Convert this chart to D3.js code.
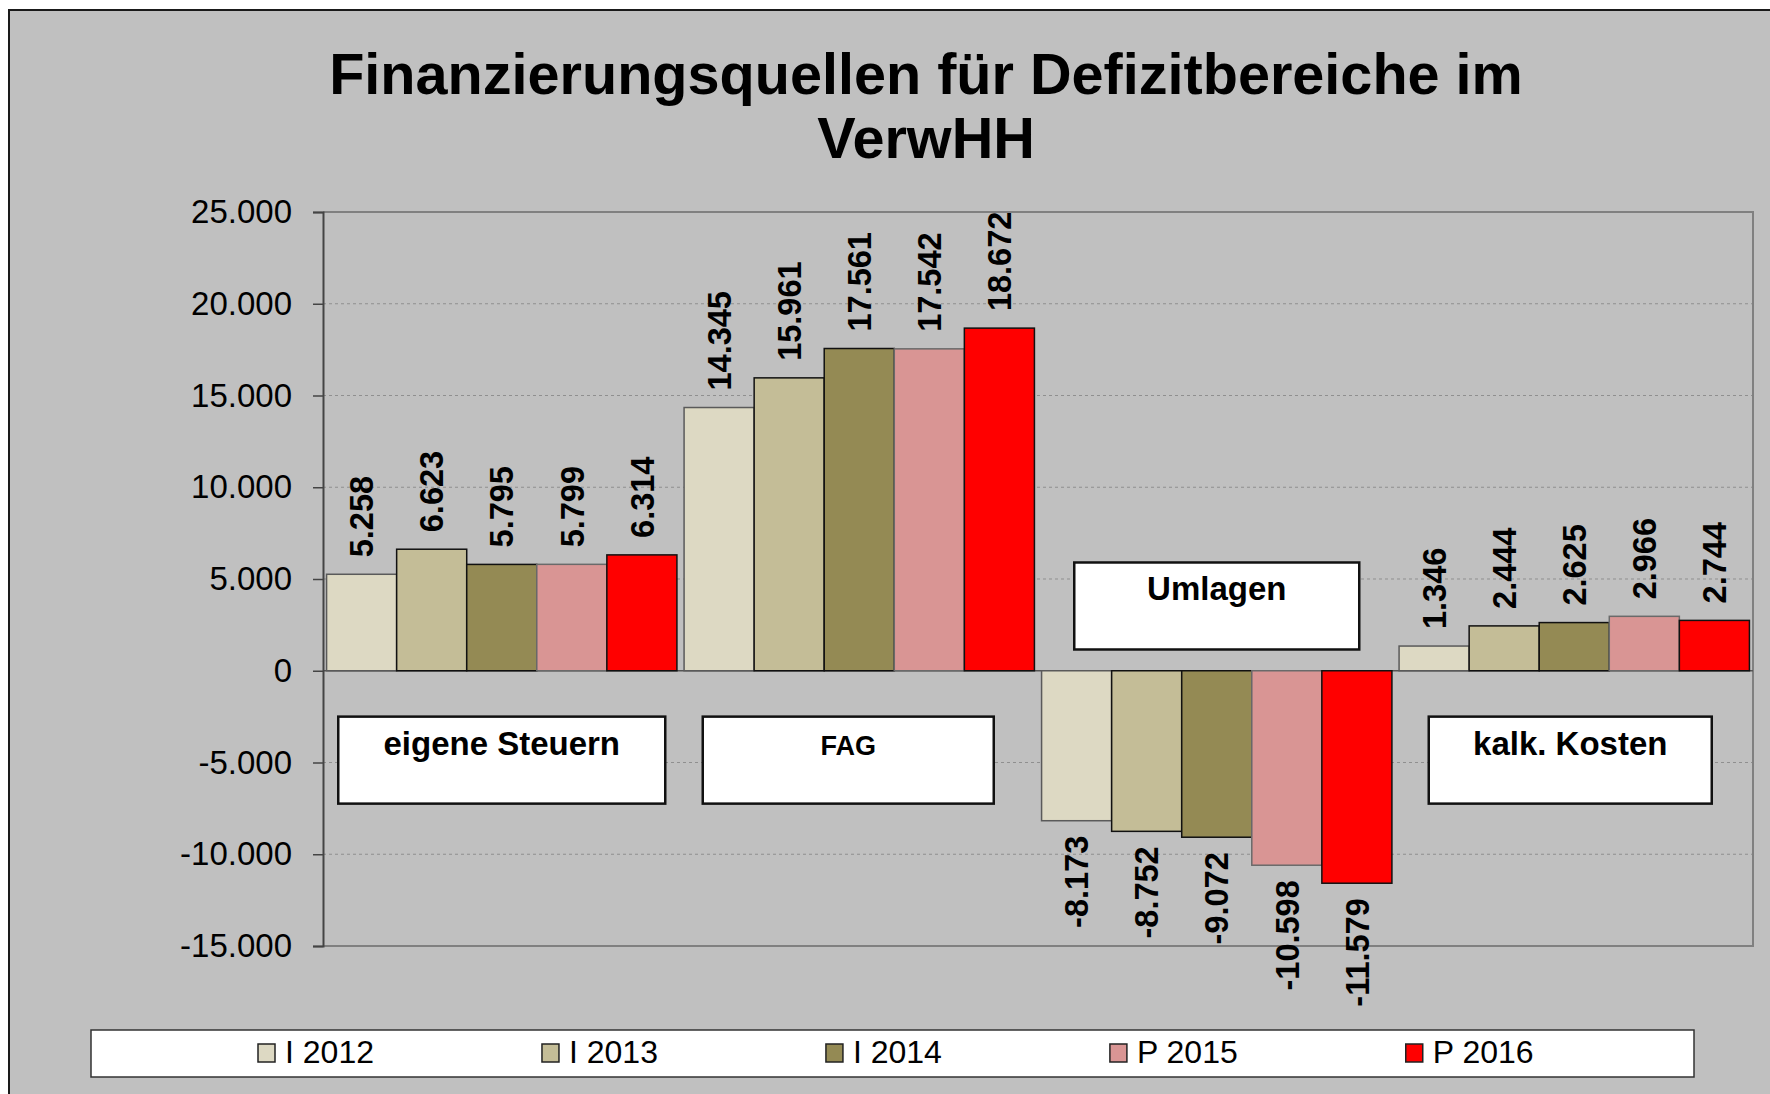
<!DOCTYPE html>
<html>
<head>
<meta charset="utf-8">
<script src="https://cdn.jsdelivr.net/npm/d3@7"></script>
<style>
  html, body { margin: 0; padding: 0; background: #ffffff; }
  svg { display: block; }
  text { font-family: "Liberation Sans", Arial, sans-serif; }
</style>
</head>
<body>
<div id="chart"></div>
<script>
// DATA
const categories = ["eigene Steuern", "FAG", "Umlagen", "kalk. Kosten"];
const seriesNames = ["I 2012", "I 2013", "I 2014", "P 2015", "P 2016"];
const valuesI2012 = [5258, 14345, -8173, 1346];
const valuesI2013 = [6623, 15961, -8752, 2444];
const valuesI2014 = [5795, 17561, -9072, 2625];
const valuesP2015 = [5799, 17542, -10598, 2966];
const valuesP2016 = [6314, 18672, -11579, 2744];
const yTicks = [-15000, -10000, -5000, 0, 5000, 10000, 15000, 20000, 25000];
const titleLines = ["Finanzierungsquellen für Defizitbereiche im", "VerwHH"];

const seriesValues = [valuesI2012, valuesI2013, valuesI2014, valuesP2015, valuesP2016];

// STYLES
const fills = ["#ddd9c3", "#c4bd97", "#948a54", "#d99594", "#ff0000"];
const strokes = ["#5a5a5a", "#111111", "#111111", "#6a6a6a", "#111111"];
const boxWidths = [327, 291, 285, 283];
const boxShift = [0, -11, 0, -4];
const boxFont = [33, 27, 33, 33];

const width = 1770;
const height = 1094;
const plot = { left: 323, right: 1753, top: 212, bottom: 946 };

const de = d3.formatLocale({
  decimal: ",",
  thousands: ".",
  grouping: [3],
  currency: ["", " €"],
  minus: "-"
});
const fmt = de.format(",d");

const svg = d3
  .select("#chart")
  .append("svg")
  .attr("width", width)
  .attr("height", height);

// Chart background + border
svg
  .append("rect")
  .attr("x", 9)
  .attr("y", 10)
  .attr("width", 1900)
  .attr("height", 1200)
  .attr("fill", "#c0c0c0")
  .attr("stroke", "#1a1a1a")
  .attr("stroke-width", 2);

// Title
svg
  .append("g")
  .selectAll("text")
  .data(titleLines)
  .enter()
  .append("text")
  .attr("x", 926)
  .attr("y", (d, i) => 94 + i * 64)
  .attr("text-anchor", "middle")
  .attr("font-size", 57.6)
  .attr("font-weight", "bold")
  .attr("fill", "#000")
  .text(d => d);

// -----------------------------------------------------------------------------
// AXES & SCALES
// -----------------------------------------------------------------------------
const yScale = d3
  .scaleLinear()
  .domain([d3.min(yTicks), d3.max(yTicks)])
  .range([plot.bottom, plot.top]);

const x0 = d3
  .scaleBand()
  .domain(categories)
  .range([plot.left, plot.right])
  .paddingInner(0.02)
  .paddingOuter(0.01);

const x1 = d3
  .scaleBand()
  .domain(seriesNames)
  .range([0, x0.bandwidth()]);

// Gridlines (dashed)
svg
  .append("g")
  .selectAll("line")
  .data(yTicks.filter(t => t !== 0 && t !== d3.min(yTicks) && t !== d3.max(yTicks)))
  .enter()
  .append("line")
  .attr("x1", plot.left)
  .attr("x2", plot.right)
  .attr("y1", d => yScale(d))
  .attr("y2", d => yScale(d))
  .attr("stroke", "#8f8f8f")
  .attr("stroke-width", 1)
  .attr("stroke-dasharray", "3,3");

// Plot border (top, right, bottom)
svg
  .append("path")
  .attr(
    "d",
    `M${plot.left},${yScale(d3.max(yTicks))}H${plot.right}V${yScale(d3.min(yTicks))}H${plot.left}`
  )
  .attr("fill", "none")
  .attr("stroke", "#808080")
  .attr("stroke-width", 2);

// Zero line
svg
  .append("line")
  .attr("x1", plot.left)
  .attr("x2", plot.right)
  .attr("y1", yScale(0))
  .attr("y2", yScale(0))
  .attr("stroke", "#555")
  .attr("stroke-width", 1.5);

// Y-axis
const yAxis = d3
  .axisLeft(yScale)
  .tickValues(yTicks)
  .tickSize(10)
  .tickPadding(21)
  .tickFormat(d => fmt(d));

const yG = svg
  .append("g")
  .attr("transform", `translate(${plot.left},0)`)
  .call(yAxis);

yG.select(".domain").attr("stroke", "#444").attr("stroke-width", 2);
yG.selectAll(".tick line").attr("stroke", "#444").attr("stroke-width", 1.5);
yG.selectAll(".tick text")
  .attr("font-size", 33)
  .attr("fill", "#000")
  .style("font-family", "'Liberation Sans', Arial, sans-serif");

// -----------------------------------------------------------------------------
// CATEGORY BOXES
// -----------------------------------------------------------------------------
const boxes = svg
  .append("g")
  .selectAll("g")
  .data(categories)
  .enter()
  .append("g")
  .attr("transform", (d, i) => {
    const cx = x0(d) + x0.bandwidth() / 2 + boxShift[i];
    const neg = d3.sum(seriesValues, s => s[i]) < 0;
    const top = neg ? yScale(5900) : yScale(-2500);
    return `translate(${cx - boxWidths[i] / 2},${top})`;
  });

boxes
  .append("rect")
  .attr("width", (d, i) => boxWidths[i])
  .attr("height", 87)
  .attr("fill", "#fff")
  .attr("stroke", "#111")
  .attr("stroke-width", 2.5);

boxes
  .append("text")
  .attr("x", (d, i) => boxWidths[i] / 2)
  .attr("y", 38)
  .attr("text-anchor", "middle")
  .attr("font-weight", "bold")
  .attr("font-size", (d, i) => boxFont[i])
  .attr("fill", "#000")
  .text(d => d);

// -----------------------------------------------------------------------------
// BARS
// -----------------------------------------------------------------------------
const groups = svg
  .append("g")
  .selectAll("g")
  .data(categories)
  .enter()
  .append("g")
  .attr("transform", d => `translate(${x0(d)},0)`);

const cells = groups
  .selectAll(".cell")
  .data((d, ci) =>
    seriesNames.map((s, si) => ({ series: s, si: si, value: seriesValues[si][ci] }))
  )
  .enter()
  .append("g")
  .attr("class", "cell");

cells
  .append("rect")
  .attr("x", d => x1(d.series))
  .attr("width", x1.bandwidth())
  .attr("y", d => yScale(Math.max(0, d.value)))
  .attr("height", d => Math.abs(yScale(d.value) - yScale(0)))
  .attr("fill", d => fills[d.si])
  .attr("stroke", d => strokes[d.si])
  .attr("stroke-width", 1.5);

// Data labels (rotated)
cells
  .append("text")
  .attr("transform", d => {
    const cx = x1(d.series) + x1.bandwidth() / 2;
    const cy = d.value >= 0 ? yScale(d.value) - 17 : yScale(d.value) + 15;
    return `translate(${cx},${cy}) rotate(-90)`;
  })
  .attr("dy", "0.36em")
  .attr("text-anchor", d => (d.value >= 0 ? "start" : "end"))
  .attr("font-size", 32.5)
  .attr("font-weight", "bold")
  .attr("fill", "#000")
  .text(d => fmt(d.value));

// -----------------------------------------------------------------------------
// LEGEND
// -----------------------------------------------------------------------------
const legendBox = { x: 91, y: 1030, w: 1603, h: 47 };

svg
  .append("rect")
  .attr("x", legendBox.x)
  .attr("y", legendBox.y)
  .attr("width", legendBox.w)
  .attr("height", legendBox.h)
  .attr("fill", "#fff")
  .attr("stroke", "#333")
  .attr("stroke-width", 1.5);

const legend = svg
  .append("g")
  .selectAll("g")
  .data(seriesNames)
  .enter()
  .append("g");

legend
  .append("rect")
  .attr("x", 0)
  .attr("y", 14)
  .attr("width", 17)
  .attr("height", 18)
  .attr("fill", (d, i) => fills[i])
  .attr("stroke", "#222")
  .attr("stroke-width", 1.5);

legend
  .append("text")
  .attr("x", 27)
  .attr("y", 33)
  .attr("font-size", 32)
  .attr("fill", "#000")
  .text(d => d);

// place entries one after another, spacing depends on text width
let lx = legendBox.x + 167;
legend.each(function() {
  const g = d3.select(this);
  g.attr("transform", `translate(${lx},${legendBox.y})`);
  lx += 195 + g.select("text").node().getComputedTextLength();
});
</script>
</body>
</html>
